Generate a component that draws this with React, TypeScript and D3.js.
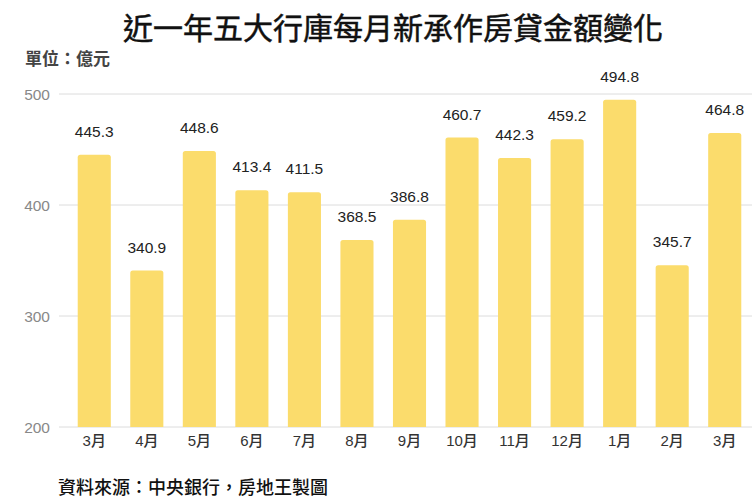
import { useEffect, useRef } from 'react';
import * as d3 from 'd3';

// 近一年五大行庫每月新承作房貸金額 (億元)
const months = ['3月', '4月', '5月', '6月', '7月', '8月', '9月', '10月', '11月', '12月', '1月', '2月', '3月'];
const amounts = [445.3, 340.9, 448.6, 413.4, 411.5, 368.5, 386.8, 460.7, 442.3, 459.2, 494.8, 345.7, 464.8];
const yTicks = [200, 300, 400, 500];

const W = 752;
const H = 498;
const CJK = '"Noto Sans CJK TC", "Noto Sans", sans-serif';
const NUM = '"Liberation Sans", "Noto Sans CJK TC", sans-serif';

const App = () => {
  const svgRef = useRef<SVGSVGElement>(null);

  useEffect(() => {
    if (!svgRef.current) return;
    const svg = d3.select(svgRef.current);
    svg.selectAll('*').remove();

    const keys = months.map((m, i) => `${i}`);
    const x = d3.scaleBand().domain(keys).range([68, 751]).paddingInner(0.37).paddingOuter(0.185);
    const y = d3.scaleLinear().domain([200, 500]).range([427, 94]);

    // title
    svg.append('text')
      .attr('x', 393)
      .attr('y', 39)
      .attr('text-anchor', 'middle')
      .attr('font-family', CJK)
      .attr('font-size', 30)
      .attr('font-weight', 400)
      .attr('stroke', '#111')
      .attr('stroke-width', 0.5)
      .attr('fill', '#111')
      .text('近一年五大行庫每月新承作房貸金額變化');

    svg.append('text')
      .attr('x', 25)
      .attr('y', 65)
      .attr('font-family', CJK)
      .attr('font-size', 17)
      .attr('font-weight', 'bold')
      .attr('fill', '#444')
      .text('單位：億元');

    // gridlines + y labels
    const grid = svg.append('g');
    grid.selectAll('line')
      .data(yTicks)
      .enter()
      .append('line')
      .attr('x1', 59)
      .attr('x2', W)
      .attr('y1', d => y(d))
      .attr('y2', d => y(d))
      .attr('stroke', '#dcdcdc')
      .attr('stroke-width', 1);
    grid.selectAll('text')
      .data(yTicks)
      .enter()
      .append('text')
      .attr('x', 50)
      .attr('y', d => y(d))
      .attr('dy', '0.36em')
      .attr('text-anchor', 'end')
      .attr('font-family', NUM)
      .attr('font-size', 15.5)
      .attr('fill', '#888')
      .text(d => d);

    // bars
    const bars = svg.append('g');
    bars.selectAll('path')
      .data(amounts)
      .enter()
      .append('path')
      .attr('d', (d, i) => {
        const x0 = x(keys[i])!;
        const w = x.bandwidth();
        const y0 = y(d);
        const y1 = y(200);
        const r = 2.5;
        return `M${x0},${y1}V${y0 + r}Q${x0},${y0} ${x0 + r},${y0}H${x0 + w - r}Q${x0 + w},${y0} ${x0 + w},${y0 + r}V${y1}Z`;
      })
      .attr('fill', '#fbdc6c');

    // value labels
    bars.selectAll('text')
      .data(amounts)
      .enter()
      .append('text')
      .attr('x', (d, i) => x(keys[i])! + x.bandwidth() / 2)
      .attr('y', d => y(d) - 18)
      .attr('text-anchor', 'middle')
      .attr('font-family', NUM)
      .attr('font-size', 15.5)
      .attr('fill', '#222')
      .text(d => d.toFixed(1));

    // x labels
    svg.append('g')
      .selectAll('text')
      .data(months)
      .enter()
      .append('text')
      .attr('x', (d, i) => x(keys[i])! + x.bandwidth() / 2)
      .attr('y', 446)
      .attr('text-anchor', 'middle')
      .attr('font-family', NUM)
      .attr('font-size', 15)
      .attr('font-weight', 500)
      .attr('fill', '#333')
      .text(d => d);

    svg.append('text')
      .attr('x', 58)
      .attr('y', 494)
      .attr('font-family', CJK)
      .attr('font-size', 18)
      .attr('font-weight', 500)
      .attr('fill', '#111')
      .text('資料來源：中央銀行，房地王製圖');
  }, []);

  return (
    <svg
      ref={svgRef}
      width={W}
      height={H}
      style={{ position: 'absolute', left: 0, top: 0, background: '#fff' }}
    />
  );
};

export default App;
